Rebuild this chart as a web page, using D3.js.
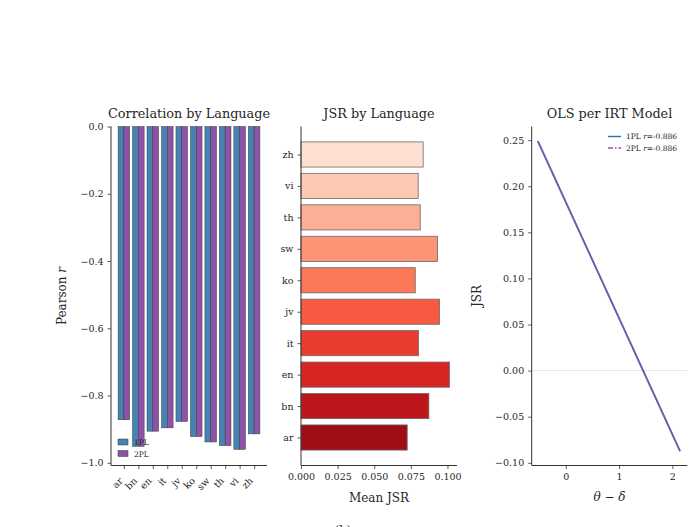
<!DOCTYPE html>
<html>
<head>
<meta charset="utf-8">
<script src="https://cdn.jsdelivr.net/npm/d3@7"></script>
<style>
  body { margin: 0; background: #fff; }
  text { font-family: "DejaVu Serif", serif; fill: #262626; }
</style>
</head>
<body>
<div id="chart"></div>
<script>

var langs = ["ar", "bn", "en", "it", "jv", "ko", "sw", "th", "vi", "zh"]
var corr1PL = [-0.872, -0.951, -0.906, -0.896, -0.877, -0.922, -0.938, -0.949, -0.960, -0.914]
var corr2PL = [-0.872, -0.951, -0.906, -0.896, -0.877, -0.922, -0.938, -0.949, -0.960, -0.914]
var meanJSR = [0.0725, 0.0873, 0.1014, 0.0802, 0.0946, 0.0780, 0.0932, 0.0814, 0.0800, 0.0834]

// OLS fit lines (endpoints of the theta-delta range)
var olsX = [-0.525, 2.144]
var ols1PL = [0.249, -0.0874]
var ols2PL = [0.249, -0.0874]
var olsR = { "1PL": -0.886, "2PL": -0.886 }

var corrTicks = [0, -0.2, -0.4, -0.6, -0.8, -1.0]
var jsrTicks = [0, 0.025, 0.05, 0.075, 0.1]
var olsYTicks = [-0.10, -0.05, 0, 0.05, 0.10, 0.15, 0.20, 0.25]
var olsXTicks = [0, 1, 2]

var W = 694, H = 527
var yTop = 126.5, yBot = 465.5
var blue = "#4682b4", purple = "#8e52a8"
var fmtMinus = function (s) { return s.replace("-", "\u2212") }

var svg = d3.select("#chart").append("svg")
  .attr("width", W)
  .attr("height", H)

function spines(g, x0, x1) {
  g.append("line").attr("x1", x0).attr("x2", x0).attr("y1", yTop).attr("y2", yBot)
    .attr("stroke", "#333").attr("stroke-width", 1)
  g.append("line").attr("x1", x0).attr("x2", x1).attr("y1", yBot).attr("y2", yBot)
    .attr("stroke", "#333").attr("stroke-width", 1)
}

function styleAxis(a) {
  a.select(".domain").remove()
  a.selectAll(".tick line").attr("stroke", "#333").attr("stroke-width", 0.8)
  a.selectAll(".tick text").style("font-family", "DejaVu Serif").style("font-size", "9.5px").attr("fill", "#262626")
}

// ---------- panel 1: correlation by language ----------
var p1 = svg.append("g")
var x1 = d3.scaleLinear().domain([-0.89, 9.89]).range([111, 267])
var y1 = d3.scaleLinear().domain([-1.008, 0]).range([yBot, yTop])
var bw = 0.4

p1.selectAll(".b1").data(corr1PL).enter().append("rect")
  .attr("x", (d, i) => x1(i - bw))
  .attr("width", x1(bw) - x1(0))
  .attr("y", y1(0))
  .attr("height", d => y1(d) - y1(0))
  .attr("fill", blue)
  .attr("stroke", "#3a3a3a").attr("stroke-width", 0.5)

p1.selectAll(".b2").data(corr2PL).enter().append("rect")
  .attr("x", (d, i) => x1(i))
  .attr("width", x1(bw) - x1(0))
  .attr("y", y1(0))
  .attr("height", d => y1(d) - y1(0))
  .attr("fill", purple)
  .attr("stroke", "#3a3a3a").attr("stroke-width", 0.5)

spines(p1, 111, 267)

var ax1y = p1.append("g").attr("transform", "translate(111,0)")
  .call(d3.axisLeft(y1).tickValues(corrTicks).tickSize(3.5).tickPadding(4).tickFormat(d => fmtMinus(d3.format(".1f")(d))))
styleAxis(ax1y)

var ax1x = p1.append("g").attr("transform", "translate(0," + yBot + ")")
  .call(d3.axisBottom(x1).tickValues(d3.range(langs.length)).tickSize(3.5).tickFormat(i => langs[i]))
styleAxis(ax1x)
ax1x.selectAll(".tick text")
  .attr("text-anchor", "end")
  .attr("x", 0).attr("y", 0).attr("dy", null)
  .attr("transform", "translate(-1,16) rotate(-45)")

p1.append("text").attr("x", 189).attr("y", 118).attr("text-anchor", "middle")
  .style("font-size", "12.8px").text("Correlation by Language")

p1.append("text").attr("transform", "translate(66," + ((yTop + yBot) / 2) + ") rotate(-90)")
  .attr("text-anchor", "middle").style("font-size", "12px")
  .html("Pearson <tspan font-style='italic'>r</tspan>")

// legend
var leg1 = p1.append("g").attr("transform", "translate(118,439)")
  .selectAll("g").data(["1PL", "2PL"]).enter().append("g")
  .attr("transform", (d, i) => "translate(0," + i * 11.5 + ")")
leg1.append("rect").attr("width", 10).attr("height", 6)
  .attr("fill", (d, i) => i ? purple : blue).attr("stroke", "#3a3a3a").attr("stroke-width", 0.5)
leg1.append("text").attr("x", 16).attr("y", 6).style("font-size", "7.5px").text(d => d)

// ---------- panel 2: JSR by language ----------
var p2 = svg.append("g")
var x2 = d3.scaleLinear().domain([0, 0.1065]).range([301, 457])
var y2 = d3.scaleLinear().domain([-0.89, 9.89]).range([yBot, yTop])
var bh = 0.8

p2.selectAll(".bar").data(meanJSR).enter().append("rect")
  .attr("x", x2(0))
  .attr("y", (d, i) => y2(i + bh / 2))
  .attr("width", d => x2(d) - x2(0))
  .attr("height", y2(0) - y2(bh))
  .attr("fill", (d, i) => d3.interpolateReds(0.88 - i * 0.085))
  .attr("stroke", "#6b6b6b").attr("stroke-width", 0.8)

spines(p2, 301, 457)

var ax2y = p2.append("g").attr("transform", "translate(301,0)")
  .call(d3.axisLeft(y2).tickValues(d3.range(langs.length)).tickSize(3.5).tickPadding(4).tickFormat(i => langs[i]))
styleAxis(ax2y)

var ax2x = p2.append("g").attr("transform", "translate(0," + yBot + ")")
  .call(d3.axisBottom(x2).tickValues(jsrTicks).tickSize(3.5).tickPadding(4).tickFormat(d3.format(".3f")))
styleAxis(ax2x)

p2.append("text").attr("x", 379).attr("y", 118).attr("text-anchor", "middle")
  .style("font-size", "12.8px").text("JSR by Language")
p2.append("text").attr("x", 379).attr("y", 502).attr("text-anchor", "middle")
  .style("font-size", "12px").text("Mean JSR")

// ---------- panel 3: OLS per IRT model ----------
var p3 = svg.append("g")
var x3 = d3.scaleLinear().domain([-0.64, 2.28]).range([531.7, 687.3])
var y3 = d3.scaleLinear().domain([-0.1029, 0.2648]).range([yBot, yTop])

p3.append("line").attr("x1", 531.7).attr("x2", 687.3).attr("y1", y3(0)).attr("y2", y3(0))
  .attr("stroke", "#aaa").attr("stroke-width", 0.6).attr("stroke-dasharray", "1,1")

var line = d3.line().x((d, i) => x3(olsX[i])).y(d => y3(d))
p3.append("path").datum(ols1PL).attr("d", line)
  .attr("fill", "none").attr("stroke", "#1f77b4").attr("stroke-width", 1.8)
p3.append("path").datum(ols2PL).attr("d", line)
  .attr("fill", "none").attr("stroke", purple).attr("stroke-width", 1.4)
  .attr("stroke-dasharray", "14,1,1.5,1")

spines(p3, 531.7, 687.3)

var ax3y = p3.append("g").attr("transform", "translate(531.7,0)")
  .call(d3.axisLeft(y3).tickValues(olsYTicks).tickSize(3.5).tickPadding(4).tickFormat(d => fmtMinus(d3.format(".2f")(d))))
styleAxis(ax3y)

var ax3x = p3.append("g").attr("transform", "translate(0," + yBot + ")")
  .call(d3.axisBottom(x3).tickValues(olsXTicks).tickSize(3.5).tickPadding(4).tickFormat(d3.format("d")))
styleAxis(ax3x)

p3.append("text").attr("x", 609.5).attr("y", 118).attr("text-anchor", "middle")
  .style("font-size", "12.8px").text("OLS per IRT Model")
p3.append("text").attr("transform", "translate(481," + ((yTop + yBot) / 2) + ") rotate(-90)")
  .attr("text-anchor", "middle").style("font-size", "12px").text("JSR")
p3.append("text").attr("x", 609.5).attr("y", 501).attr("text-anchor", "middle")
  .style("font-size", "12px").style("font-style", "italic").text("\u03b8 \u2212 \u03b4")

var leg3 = p3.append("g").attr("transform", "translate(608,136.5)")
  .selectAll("g").data(["1PL", "2PL"]).enter().append("g")
  .attr("transform", (d, i) => "translate(0," + i * 11.5 + ")")
leg3.append("line").attr("x1", 0).attr("x2", 13).attr("y1", 0).attr("y2", 0)
  .attr("stroke", (d, i) => i ? purple : "#1f77b4").attr("stroke-width", 1.4)
  .attr("stroke-dasharray", (d, i) => i ? "5,2,1.5,2" : null)
leg3.append("text").attr("x", 18).attr("y", 2.5).style("font-size", "7.5px")
  .html(d => d + " <tspan font-style='italic'>r</tspan>=" + olsR[d].toFixed(3))

// cropped caption at the bottom edge
svg.append("text").attr("x", 343).attr("y", 535).attr("text-anchor", "middle")
  .style("font-size", "12px").text("(b)")
</script>
</body>
</html>
